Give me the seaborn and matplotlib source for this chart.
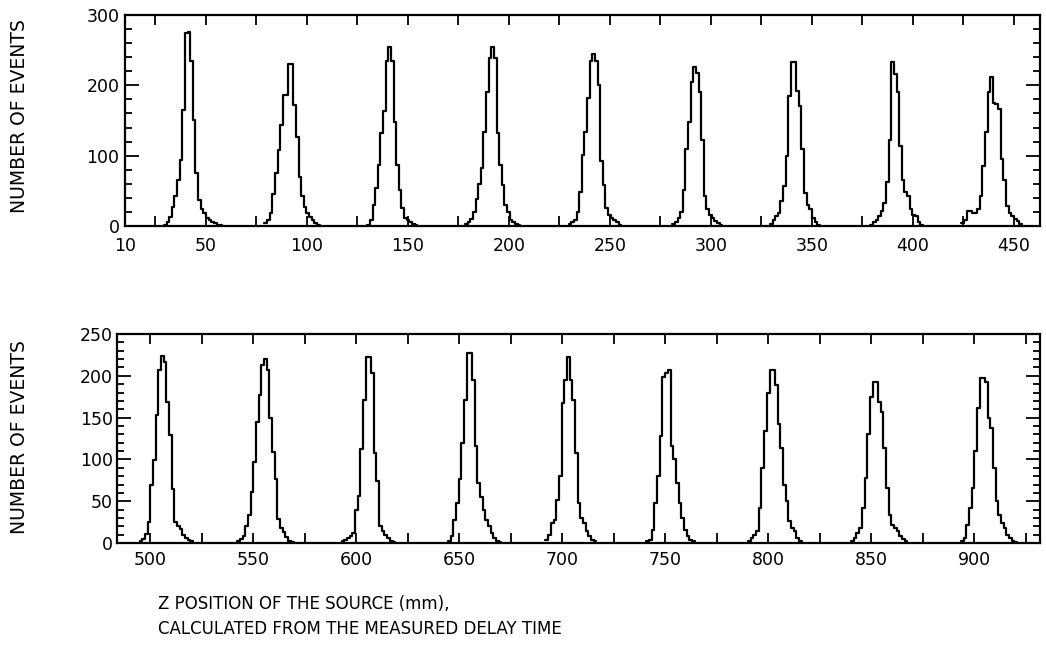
import numpy as np
import pandas as pd
import matplotlib
matplotlib.use("Agg")
import matplotlib.pyplot as plt
from matplotlib.ticker import MultipleLocator, FixedLocator
import seaborn as sns

BIN_MM = 1.3

# upper panel: left edge of first bin (mm) and counts per bin, one list per source position
top_starts = [29.3, 79.0, 129.95, 178.35, 229.65, 280.95, 329.3, 378.95, 424.05]
counts_040 = [2, 6, 13, 27, 42, 65, 94, 165, 275, 276, 234, 151, 75, 37, 24, 18, 12, 9, 6, 4, 2, 1]
counts_090 = [4, 9, 18, 46, 75, 108, 144, 186, 186, 231, 231, 172, 127, 70, 42, 27, 18, 13, 8, 4, 2]
counts_140 = [2, 9, 30, 54, 87, 132, 163, 234, 255, 234, 148, 87, 51, 25, 11, 8, 6, 3, 1]
counts_190 = [3, 6, 10, 20, 39, 60, 82, 134, 191, 239, 255, 239, 132, 87, 58, 30, 20, 9, 6, 3, 1]
counts_240 = [3, 6, 9, 20, 49, 101, 134, 182, 234, 245, 234, 200, 92, 58, 25, 16, 12, 9, 5, 2]
counts_290 = [3, 6, 12, 20, 51, 110, 148, 205, 226, 218, 190, 123, 43, 24, 16, 12, 7, 4, 2]
counts_340 = [3, 9, 14, 19, 35, 57, 100, 185, 233, 233, 192, 171, 109, 47, 30, 24, 12, 5, 2]
counts_390 = [2, 5, 9, 14, 22, 33, 62, 123, 233, 216, 190, 114, 66, 48, 43, 24, 16, 14, 6, 2]
counts_440 = [4, 9, 21, 21, 19, 19, 24, 43, 85, 133, 190, 212, 175, 173, 166, 95, 66, 28, 18, 14, 10, 7, 3]

# lower panel
bottom_starts = [494.95, 542.35, 593.0, 644.6, 691.95, 740.95, 790.3, 840.3, 893.6]
counts_505 = [3, 5, 11, 25, 69, 99, 153, 207, 224, 217, 169, 129, 65, 25, 20, 17, 10, 6, 4, 2]
counts_555 = [3, 5, 9, 20, 33, 61, 97, 145, 177, 213, 220, 207, 149, 109, 77, 29, 18, 13, 7, 3, 1]
counts_605 = [2, 4, 6, 8, 12, 40, 56, 112, 171, 223, 223, 203, 108, 74, 20, 14, 10, 6, 3, 1]
counts_655 = [3, 8, 28, 48, 76, 120, 171, 227, 227, 195, 116, 72, 55, 40, 28, 20, 12, 6, 3, 1]
counts_705 = [4, 10, 24, 28, 52, 80, 167, 195, 223, 195, 171, 108, 48, 30, 24, 14, 8, 4, 2]
counts_750 = [2, 4, 16, 48, 80, 128, 199, 203, 207, 116, 100, 72, 48, 30, 16, 8, 4, 2]
counts_800 = [2, 6, 10, 14, 42, 90, 134, 179, 207, 207, 189, 142, 114, 70, 50, 26, 18, 14, 6, 2]
counts_850 = [2, 6, 12, 18, 42, 78, 130, 175, 193, 193, 169, 157, 114, 66, 34, 22, 18, 14, 8, 5, 2]
counts_905 = [2, 6, 22, 42, 66, 110, 161, 197, 197, 193, 150, 138, 90, 50, 34, 24, 18, 10, 6, 3, 1]

top_peaks = [counts_040, counts_090, counts_140, counts_190, counts_240,
             counts_290, counts_340, counts_390, counts_440]
bottom_peaks = [counts_505, counts_555, counts_605, counts_655, counts_705,
                counts_750, counts_800, counts_850, counts_905]

top_xticks = [10, 50, 100, 150, 200, 250, 300, 350, 400, 450]
bottom_xticks = [500, 550, 600, 650, 700, 750, 800, 850, 900]


def peak_frame(starts, peaks):
    rows = []
    for i, (start, counts) in enumerate(zip(starts, peaks)):
        for j, c in enumerate(counts):
            rows.append({"peak": i, "start": start, "z": start + (j + 0.5) * BIN_MM, "n": c})
    return pd.DataFrame(rows)


def draw_panel(ax, df):
    for _, grp in df.groupby("peak"):
        lo = grp["start"].iloc[0]
        hi = lo + BIN_MM * len(grp)
        sns.histplot(data=grp, x="z", weights="n", binwidth=BIN_MM, binrange=(lo, hi),
                     element="step", fill=False, color="black", linewidth=1.6, ax=ax)
    ax.set_xlabel("")
    ax.set_ylabel("")
    for s in ax.spines.values():
        s.set_linewidth(1.6)
        s.set_color("black")
        s.set_visible(True)
    ax.tick_params(which="both", direction="in", top=True, right=True,
                   width=1.3, labelsize=12.5, colors="black")
    ax.tick_params(axis="x", which="both", length=7)
    ax.tick_params(axis="y", which="major", length=10)
    ax.tick_params(axis="y", which="minor", length=5)


sns.set_style("ticks")
plt.rcParams["font.family"] = ["DejaVu Sans"]
plt.rcParams["text.color"] = "black"

fig = plt.figure(figsize=(10.46, 6.45), dpi=100)
ax_top = fig.add_axes([0.1195, 0.6496, 0.8748, 0.3271])
ax_bot = fig.add_axes([0.1119, 0.1581, 0.8824, 0.3240])

draw_panel(ax_top, peak_frame(top_starts, top_peaks))
ax_top.set_xlim(10, 463)
ax_top.set_ylim(0, 300)
ax_top.xaxis.set_major_locator(FixedLocator(top_xticks))
ax_top.xaxis.set_minor_locator(MultipleLocator(25))
ax_top.yaxis.set_major_locator(MultipleLocator(100))
ax_top.yaxis.set_minor_locator(MultipleLocator(20))
ax_top.tick_params(axis="x", pad=8)
ax_top.tick_params(axis="y", pad=4)

draw_panel(ax_bot, peak_frame(bottom_starts, bottom_peaks))
ax_bot.set_xlim(484, 932)
ax_bot.set_ylim(0, 250)
ax_bot.xaxis.set_major_locator(FixedLocator(bottom_xticks))
ax_bot.xaxis.set_minor_locator(MultipleLocator(25))
ax_bot.yaxis.set_major_locator(MultipleLocator(50))
ax_bot.yaxis.set_minor_locator(MultipleLocator(10))
ax_bot.tick_params(axis="x", pad=6)
ax_bot.tick_params(axis="y", pad=3)

fig.text(0.0191, 0.820, "NUMBER OF EVENTS", rotation=90, ha="center", va="center",
         fontsize=13.5, color="black")
fig.text(0.0191, 0.3225, "NUMBER OF EVENTS", rotation=90, ha="center", va="center",
         fontsize=13.5, color="black")

fig.text(0.151, 1 - 604 / 645, "Z POSITION OF THE SOURCE (mm),", ha="left", va="center",
         fontsize=12, color="black")
fig.text(0.151, 1 - 629 / 645, "CALCULATED FROM THE MEASURED DELAY TIME", ha="left", va="center",
         fontsize=12, color="black")

fig.savefig("out.png", dpi=100)
